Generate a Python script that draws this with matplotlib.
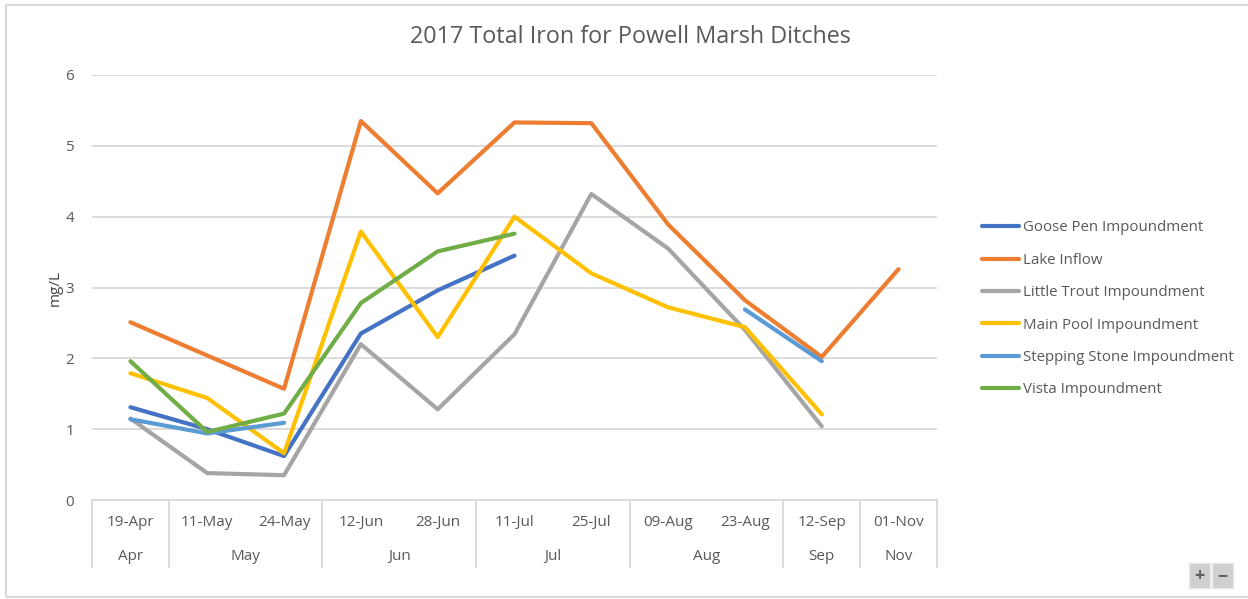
import numpy as np
import matplotlib
matplotlib.use('Agg')
import matplotlib.pyplot as plt
from matplotlib.patches import Rectangle

nan = np.nan

# Data
dates = ['19-Apr', '11-May', '24-May', '12-Jun', '28-Jun', '11-Jul',
         '25-Jul', '09-Aug', '23-Aug', '12-Sep', '01-Nov']
months = ['Apr', 'May', 'Jun', 'Jul', 'Aug', 'Sep', 'Nov']
month_counts = [1, 2, 2, 2, 2, 1, 1]

goose_pen = [1.31, 1.00, 0.62, 2.35, 2.96, 3.45, nan, nan, nan, nan, nan]
lake_inflow = [2.51, 2.04, 1.57, 5.35, 4.33, 5.33, 5.32, 3.89, 2.82, 2.02, 3.26]
little_trout = [1.15, 0.38, 0.35, 2.20, 1.28, 2.34, 4.32, 3.55, 2.40, 1.04, nan]
main_pool = [1.79, 1.44, 0.66, 3.79, 2.30, 4.00, 3.20, 2.72, 2.44, 1.21, nan]
stepping_stone = [1.14, 0.94, 1.09, nan, nan, nan, nan, nan, 2.69, 1.96, nan]
vista = [1.96, 0.96, 1.22, 2.78, 3.51, 3.76, nan, nan, nan, nan, nan]

series = [
    ('Goose Pen Impoundment', goose_pen, '#4472C4'),
    ('Lake Inflow', lake_inflow, '#ED7D31'),
    ('Little Trout Impoundment', little_trout, '#A5A5A5'),
    ('Main Pool Impoundment', main_pool, '#FFC000'),
    ('Stepping Stone Impoundment', stepping_stone, '#5B9BD5'),
    ('Vista Impoundment', vista, '#70AD47'),
]

plt.rcParams['font.family'] = ['Open Sans', 'DejaVu Sans']
txt = '#595959'
grid = '#D9D9D9'

fig = plt.figure(figsize=(12.48, 5.99), dpi=100)
ax = fig.add_axes([92 / 1248, 1 - 500 / 599, 845 / 1248, 425 / 599])

x = np.arange(len(dates))
for name, vals, col in series:
    ax.plot(x, vals, color=col, lw=3.0, label=name, solid_capstyle='round',
            solid_joinstyle='round')

ax.set_xlim(-0.5, len(dates) - 0.5)
ax.set_ylim(0, 6)
ax.set_yticks(range(7))
ax.yaxis.grid(True, color=grid, lw=1.3)
ax.set_axisbelow(True)
for s in ['top', 'right', 'left']:
    ax.spines[s].set_visible(False)
ax.spines['bottom'].set_color(grid)
ax.spines['bottom'].set_linewidth(1.3)
ax.tick_params(axis='y', length=0, pad=13, labelsize=11, labelcolor=txt)
ax.set_xticks([])
ax.set_ylabel('mg/L', fontsize=11, color='#404040', labelpad=2)

# two-level category axis
trans = ax.get_xaxis_transform()
for i, d in enumerate(dates):
    ax.text(i, -0.052, d, transform=trans, ha='center', va='center',
            fontsize=11, color=txt)
edges = np.concatenate([[0], np.cumsum(month_counts)]) - 0.5
for e in edges:
    ax.plot([e, e], [0, -0.158], transform=trans, color=grid, lw=1.3,
            clip_on=False)
for m, a, b in zip(months, edges[:-1], edges[1:]):
    ax.text((a + b) / 2, -0.132, m, transform=trans, ha='center',
            va='center', fontsize=11, color=txt)

fig.text(630 / 1248, 1 - 37 / 599, '2017 Total Iron for Powell Marsh Ditches',
         ha='center', va='center', fontsize=16.8, color=txt)

leg = fig.legend(loc='upper left', bbox_to_anchor=(968 / 1248, 1 - 207 / 599),
                 frameon=False, fontsize=10.8, labelspacing=1.16,
                 handlelength=2.5, handletextpad=0.25)
for t in leg.get_texts():
    t.set_color(txt)

# chart frame and zoom buttons
fig.patches.append(Rectangle((6 / 1248, 2 / 599), 1.1, 592 / 599,
                             transform=fig.transFigure, fill=False,
                             edgecolor='#D9D9D9', lw=1.5))
for i, sym in enumerate(['+', '\u2212']):
    x0 = (1189 + i * 23) / 1248
    fig.patches.append(Rectangle((x0, 1 - 588 / 599), 21 / 1248, 25 / 599,
                                 transform=fig.transFigure,
                                 facecolor='#D0D0D0', edgecolor='#E8E8E8'))
    fig.text(x0 + 10.5 / 1248, 1 - 576 / 599, sym, ha='center', va='center',
             fontsize=13, color='#606060', fontweight='bold')

fig.savefig('out.png', dpi=100, facecolor='white')
